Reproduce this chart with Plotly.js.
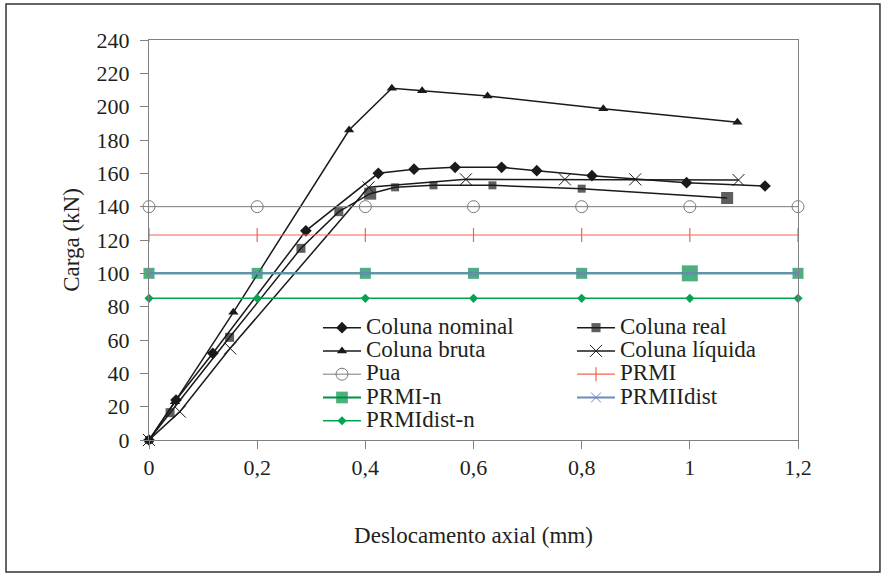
<!DOCTYPE html>
<html>
<head>
<meta charset="utf-8">
<script src="https://cdn.plot.ly/plotly-3.0.1.min.js"></script>
<style>html,body{margin:0;padding:0;background:#fff;}#chart{width:887px;height:575px;}</style>
</head>
<body>
<div id="chart"></div>
<script>
// ---- data ----
const seriesNames = ["Coluna nominal","Coluna real","Coluna bruta","Coluna líquida","Pua","PRMI","PRMI-n","PRMIIdist","PRMIdist-n"];

const xNominal = [0, 0.05, 0.118, 0.29, 0.424, 0.49, 0.566, 0.652, 0.717, 0.819, 0.994, 1.139];
const yNominal = [0, 24, 52, 125.5, 160, 162.5, 163.6, 163.6, 161.6, 158.6, 154.4, 152.4];

const xReal = [0, 0.039, 0.149, 0.281, 0.351, 0.409, 0.455, 0.526, 0.635, 0.8, 1.069];
const yReal = [0, 16.4, 61.6, 115, 137, 147.8, 151.6, 152.8, 152.8, 150.8, 145.2];

const xBruta = [0, 0.048, 0.156, 0.37, 0.449, 0.505, 0.626, 0.84, 1.088];
const yBruta = [0, 23, 76.6, 186, 211, 209.6, 206.4, 198.8, 190.6];

const xLiquida = [0, 0.057, 0.15, 0.406, 0.586, 0.769, 0.899, 1.09];
const yLiquida = [0, 17, 55, 151.6, 156.4, 156.4, 156.4, 156];

const xRef = [0, 0.2, 0.4, 0.6, 0.8, 1.0, 1.2];
const yPua = [140, 140, 140, 140, 140, 140, 140];
const yPRMI = [123, 123, 123, 123, 123, 123, 123];
const yPRMIn = [100, 100, 100, 100, 100, 100, 100];
const yPRMIIdist = [100, 100, 100, 100, 100, 100, 100];
const yPRMIdistn = [85, 85, 85, 85, 85, 85, 85];

const xTicks = [0, 0.2, 0.4, 0.6, 0.8, 1.0, 1.2];
const yTicks = [0, 20, 40, 60, 80, 100, 120, 140, 160, 180, 200, 220, 240];

// ---- styling ----
const FONT = "Liberation Serif";
const TXT = "#231f20";
const BLK = "#1a1a1a";
const GREEN = "#009245";
const GREEN2 = "#00a651";
const RED = "#f26452";
const BLUE = "#6f8bbd";
const GRAY = "#7a7a7a";
const lbl = s => '<span style="font-size:23px">' + s + '</span>';

const traces = [
  {x: xNominal, y: yNominal, name: lbl(seriesNames[0]), mode: "lines+markers",
   line: {color: BLK, width: 1.5}, marker: {symbol: "diamond", size: 9, color: BLK}},
  {x: xReal, y: yReal, name: lbl(seriesNames[1]), mode: "lines+markers",
   line: {color: BLK, width: 1.5}, marker: {symbol: "square", size: [8,9,9,9,9,12,8,8,8,8,12], color: BLK, line: {width: 0}}},
  {x: xBruta, y: yBruta, name: lbl(seriesNames[2]), mode: "lines+markers",
   line: {color: BLK, width: 1.5}, marker: {symbol: "triangle-up", size: 9, color: BLK}},
  {x: xLiquida, y: yLiquida, name: lbl(seriesNames[3]), mode: "lines+markers",
   line: {color: BLK, width: 1.5}, marker: {symbol: "x-thin-open", size: 12, line: {color: GRAY, width: 1}}},
  {x: xRef, y: yPua, name: lbl(seriesNames[4]), mode: "lines+markers",
   line: {color: GRAY, width: 1}, marker: {symbol: "circle-open", size: 12, color: GRAY, line: {width: 1}}},
  {x: xRef, y: yPRMI, name: lbl(seriesNames[5]), mode: "lines+markers",
   line: {color: RED, width: 1.2}, marker: {symbol: "line-ns-open", size: 10, line: {color: RED, width: 1.2}}},
  {x: xRef, y: yPRMIn, name: lbl(seriesNames[6]), mode: "lines+markers",
   line: {color: GREEN, width: 2}, marker: {symbol: "square", size: [11,11,11,11,11,16,11], color: GREEN, line: {width: 0}}},
  {x: xRef, y: yPRMIIdist, name: lbl(seriesNames[7]), mode: "lines+markers",
   line: {color: BLUE, width: 2}, marker: {symbol: "x-thin-open", size: 10, line: {color: "#2f4f6f", width: 1}}},
  {x: xRef, y: yPRMIdistn, name: lbl(seriesNames[8]), mode: "lines+markers",
   line: {color: GREEN2, width: 1.5}, marker: {symbol: "diamond", size: 7, color: GREEN2}}
];
traces.forEach(t => { t.type = "scatter"; t.cliponaxis = false; });

const axisBase = {
  showgrid: false, zeroline: false, showline: true, linecolor: "#808080", linewidth: 1,
  mirror: true, ticks: "outside", ticklen: 8, tickcolor: "#808080", tickwidth: 1,
  tickfont: {family: FONT, size: 22, color: TXT}
};

const layout = {
  width: 887, height: 575,
  margin: {l: 149, r: 89, t: 40, b: 135},
  paper_bgcolor: "#ffffff", plot_bgcolor: "#ffffff",
  separators: ",.",
  font: {family: FONT, color: TXT},
  xaxis: Object.assign({}, axisBase, {
    range: [0, 1.2], tickmode: "array", tickvals: xTicks, ticklabelstandoff: 0,
    title: {text: "Deslocamento axial (mm)", font: {family: FONT, size: 23, color: TXT}, standoff: 47}
  }),
  yaxis: Object.assign({}, axisBase, {
    range: [0, 240], tickmode: "array", tickvals: yTicks, ticklabelstandoff: 6,
    title: {text: "Carga (kN)", font: {family: FONT, size: 23, color: TXT}, standoff: 10}
  }),
  showlegend: true,
  legend: {
    orientation: "h", x: 0.2604, y: 0.3225, xanchor: "left", yanchor: "top",
    entrywidth: 201, entrywidthmode: "pixels", itemwidth: 38,
    bgcolor: "rgba(0,0,0,0)", borderwidth: 0,
    font: {family: FONT, size: 15.6, color: TXT}
  },
  shapes: [{
    type: "rect", xref: "paper", yref: "paper",
    x0: -0.2203, x1: 1.1263, y0: -0.33, y1: 1.09,
    line: {color: "#333333", width: 1.5}, fillcolor: "rgba(0,0,0,0)", layer: "below"
  }]
};

Plotly.newPlot("chart", traces, layout, {displayModeBar: false, staticPlot: true});
</script>
</body>
</html>
